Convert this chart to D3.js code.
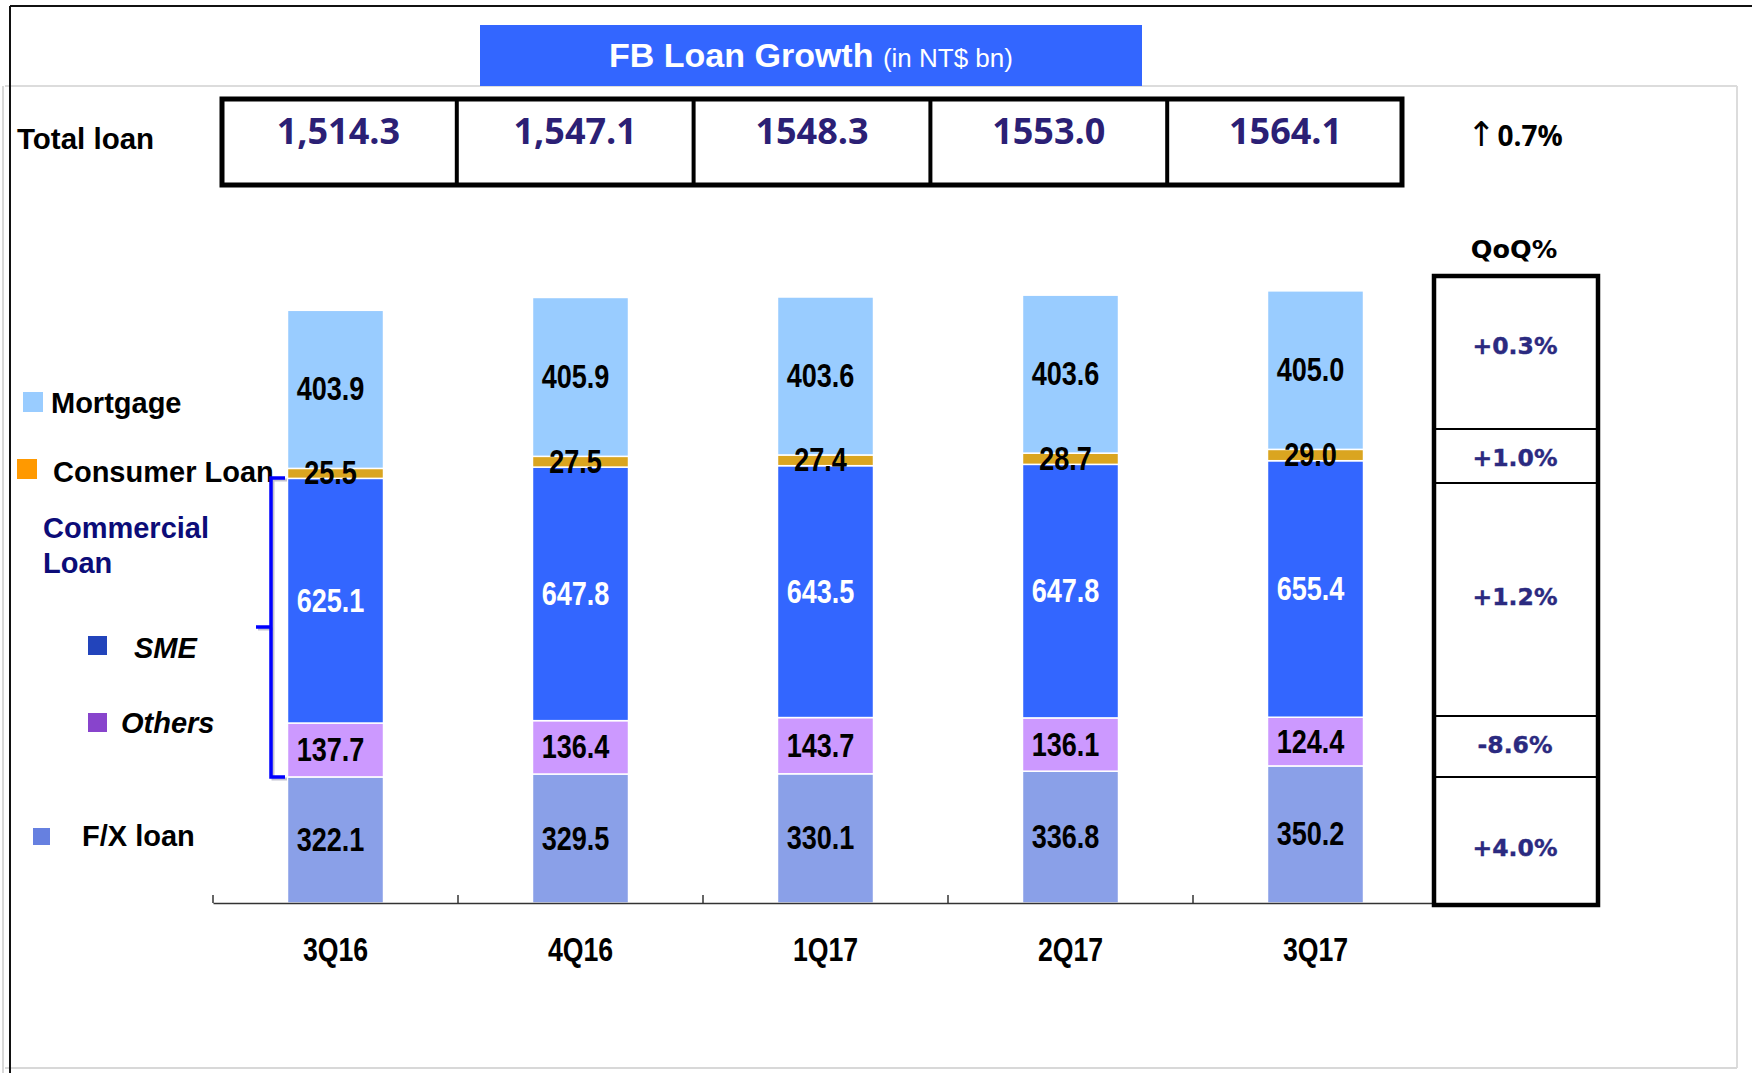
<!DOCTYPE html>
<html><head><meta charset="utf-8">
<script src="https://cdn.jsdelivr.net/npm/d3@7"></script>
<style>
html,body{margin:0;padding:0;background:#fff;}
svg{display:block;}
</style></head>
<body>
<svg id="c" width="1752" height="1073"></svg>
<script>
// ---------- DATA ----------
const categories = ["3Q16","4Q16","1Q17","2Q17","3Q17"];
const totalLoan  = ["1,514.3","1,547.1","1548.3","1553.0","1564.1"];
const fxLoan     = [322.1, 329.5, 330.1, 336.8, 350.2];
const others     = [137.7, 136.4, 143.7, 136.1, 124.4];
const sme        = [625.1, 647.8, 643.5, 647.8, 655.4];
const consumer   = [25.5, 27.5, 27.4, 28.7, 29.0];
const mortgage   = [403.9, 405.9, 403.6, 403.6, 405.0];
const seriesNames = ["F/X loan","Others","SME","Consumer Loan","Mortgage"];
const qoqLabels  = ["+0.3%","+1.0%","+1.2%","-8.6%","+4.0%"]; // Mortgage, Consumer, SME, Others, F/X
const totalGrowth = "0.7%";

// ---------- STYLE ----------
const barColors = {"F/X loan":"#8aa0e8","Others":"#cc99ff","SME":"#3366ff","Consumer Loan":"#daa520","Mortgage":"#99ccff"};
const labelColors = {"F/X loan":"#000","Others":"#000","SME":"#fff","Consumer Loan":"#000","Mortgage":"#000"};

const svg = d3.select("#c");

// frame lines
svg.append("line").attr("x1",3).attr("x2",3).attr("y1",86).attr("y2",1073).attr("stroke","#d8d8d8").attr("stroke-width",2);
svg.append("line").attr("x1",5).attr("x2",1737).attr("y1",86).attr("y2",86).attr("stroke","#dcdcdc").attr("stroke-width",2);
svg.append("line").attr("x1",1737).attr("x2",1737).attr("y1",86).attr("y2",1068).attr("stroke","#dcdcdc").attr("stroke-width",2);
svg.append("line").attr("x1",5).attr("x2",1737).attr("y1",1068).attr("y2",1068).attr("stroke","#d8d8d8").attr("stroke-width",2);
svg.append("line").attr("x1",10).attr("x2",1752).attr("y1",6).attr("y2",6).attr("stroke","#111").attr("stroke-width",2);
svg.append("line").attr("x1",10).attr("x2",10).attr("y1",6).attr("y2",1073).attr("stroke","#111").attr("stroke-width",2);

// title
svg.append("rect").attr("x",480).attr("y",25).attr("width",662).attr("height",61).attr("fill","#3366ff");
const tt = svg.append("text").attr("x",811).attr("y",67).attr("text-anchor","middle").attr("fill","#fff")
  .style("font-family","'Liberation Sans',Arial,sans-serif");
tt.append("tspan").attr("font-weight","bold").attr("font-size",34).text("FB Loan Growth ");
tt.append("tspan").attr("font-size",26).text("(in NT$ bn)");

// total loan row
svg.append("text").attr("x",17).attr("y",149).attr("font-size",29.5).attr("font-weight","bold")
  .style("font-family","'Liberation Sans',Arial,sans-serif").text("Total loan");
const xt = d3.scaleBand().domain(categories).range([220,1404]);
svg.append("rect").attr("x",222).attr("y",99).attr("width",1180).attr("height",86)
  .attr("fill","#fff").attr("stroke","#000").attr("stroke-width",5);
svg.selectAll(".tdiv").data(categories.slice(1)).enter().append("line")
  .attr("x1",d=>xt(d)).attr("x2",d=>xt(d)).attr("y1",97).attr("y2",187).attr("stroke","#000").attr("stroke-width",4);
svg.selectAll(".tval").data(categories).enter().append("text")
  .attr("x",d=>xt(d)+xt.bandwidth()/2).attr("y",144).attr("text-anchor","middle")
  .attr("font-size",36).attr("font-weight","bold").attr("fill","#2b2075")
  .style("font-family","'Open Sans',sans-serif")
  .text((d,i)=>totalLoan[i]);
const gr = svg.append("text").attr("x",1467).attr("y",146).attr("fill","#000").style("font-family","'Open Sans',sans-serif");
gr.append("tspan").attr("font-size",34).attr("font-weight","normal").style("font-family","'DejaVu Sans',sans-serif").text("↑");
gr.append("tspan").attr("font-size",28).attr("font-weight","bold").attr("dx",2).text(totalGrowth);

// chart scales
const x = d3.scaleBand().domain(categories).range([213,1438]).paddingInner(0.608).paddingOuter(0.304);
const y = d3.scaleLinear().domain([0,1600]).range([903, 903-1600*0.3914]);

const rows = categories.map((c,i)=>({cat:c,"F/X loan":fxLoan[i],"Others":others[i],"SME":sme[i],"Consumer Loan":consumer[i],"Mortgage":mortgage[i]}));
const stack = d3.stack().keys(seriesNames)(rows);

const g = svg.append("g");
stack.forEach(layer=>{
  g.selectAll(null).data(layer).enter().append("rect")
    .attr("x",d=>x(d.data.cat)).attr("width",x.bandwidth())
    .attr("y",d=>y(d[1])).attr("height",d=>y(d[0])-y(d[1]))
    .attr("fill",barColors[layer.key]).attr("stroke","#fff").attr("stroke-width",1.5);
});

// axis
const axis = d3.axisBottom(x).tickSize(0).tickFormat("");
const ag = svg.append("g").attr("transform","translate(0,903)").call(axis);
ag.select(".domain").attr("stroke","#333").attr("stroke-width",1.5);
const edges = d3.range(categories.length+1).map(i=>x.range()[0]+i*x.step());
svg.selectAll(".tk").data(edges).enter().append("line")
  .attr("x1",d=>d).attr("x2",d=>d).attr("y1",895).attr("y2",903).attr("stroke","#333").attr("stroke-width",1.5);

// narrow font helper
function narrowify(sel){
  sel.each(function(){
    const t = d3.select(this);
    t.style("font-family","'Liberation Sans Narrow','Arial Narrow',sans-serif");
    const w1 = this.getComputedTextLength();
    t.style("font-family","'Liberation Sans',Arial,sans-serif");
    const w2 = this.getComputedTextLength();
    if (w1 < w2*0.9) { t.style("font-family","'Liberation Sans Narrow','Arial Narrow',sans-serif"); }
    else { t.attr("textLength", w2*0.82).attr("lengthAdjust","spacingAndGlyphs"); }
  });
}

svg.selectAll(".xl").data(categories).enter().append("text")
  .attr("x",d=>x(d)+x.bandwidth()/2).attr("y",961).attr("text-anchor","middle")
  .attr("font-size",32.5).attr("font-weight","bold").attr("fill","#000").text(d=>d)
  .call(narrowify);

// bar labels
stack.forEach(layer=>{
  svg.selectAll(null).data(layer).enter().append("text")
    .attr("x",d=>x(d.data.cat)+x.bandwidth()/2-5)
    .attr("y",d=>(y(d[0])+y(d[1]))/2+11)
    .attr("text-anchor","middle").attr("font-size",33).attr("font-weight","bold")
    .attr("fill",labelColors[layer.key])
    .text(d=>d.data[layer.key].toFixed(1))
    .call(narrowify);
});

// legend
const lf = "'Liberation Sans',Arial,sans-serif";
function sq(x0,y0,s,c){ svg.append("rect").attr("x",x0).attr("y",y0).attr("width",s).attr("height",s).attr("fill",c); }
function lt(x0,y0,txt,opts={}){
  return svg.append("text").attr("x",x0).attr("y",y0).attr("font-size",opts.size||29).attr("font-weight","bold")
    .attr("font-style",opts.italic?"italic":"normal").attr("fill",opts.color||"#000").style("font-family",lf).text(txt);
}
sq(23,392,20,"#99ccff"); lt(51,413,"Mortgage");
sq(17,459,20,"#ff9900"); lt(53,482,"Consumer Loan");
lt(43,538,"Commercial",{color:"#0c0c78"}); lt(43,573,"Loan",{color:"#0c0c78"});
sq(88,636,19,"#2244bb"); lt(134,658,"SME",{italic:true});
sq(88,713,19,"#8844cc"); lt(121,733,"Others",{italic:true});
sq(33,828,17,"#6680e0"); lt(82,846,"F/X loan");

// bracket
const bp = d3.path();
bp.moveTo(285,478); bp.lineTo(271,478); bp.lineTo(271,777); bp.lineTo(285,777);
const bp2 = d3.path(); bp2.moveTo(271,627); bp2.lineTo(256,627);
[bp,bp2].forEach(p=>{
  svg.append("path").attr("d",p.toString()).attr("fill","none").attr("stroke","#9a9ab0").attr("stroke-width",3).attr("transform","translate(2,2)").attr("opacity",0.6);
});
[bp,bp2].forEach(p=>{
  svg.append("path").attr("d",p.toString()).attr("fill","none").attr("stroke","#0000ff").attr("stroke-width",3.5);
});

// QoQ table
const qf = "'DejaVu Sans',Verdana,sans-serif";
svg.append("text").attr("x",1514).attr("y",258).attr("text-anchor","middle").attr("font-size",25.5)
  .attr("font-weight","bold").style("font-family",qf).text("QoQ%");
const qEdges = [274, 429, 483, 716, 777, 907];
svg.append("rect").attr("x",1434).attr("y",276).attr("width",164).attr("height",629)
  .attr("fill","#fff").attr("stroke","#000").attr("stroke-width",4.5);
svg.selectAll(".qd").data(qEdges.slice(1,-1)).enter().append("line")
  .attr("x1",1434).attr("x2",1598).attr("y1",d=>d).attr("y2",d=>d).attr("stroke","#000").attr("stroke-width",2);
const qCenters = [345, 457, 596, 744, 847];
svg.selectAll(".qv").data(qoqLabels).enter().append("text")
  .attr("x",1515).attr("y",(d,i)=>qCenters[i]+9).attr("text-anchor","middle")
  .attr("font-size",23.5).attr("font-weight","bold").attr("fill","#2b2a80").style("font-family",qf)
  .attr("stroke","#2b2a80").attr("stroke-width",0.4).text(d=>d);
</script>
</body></html>
